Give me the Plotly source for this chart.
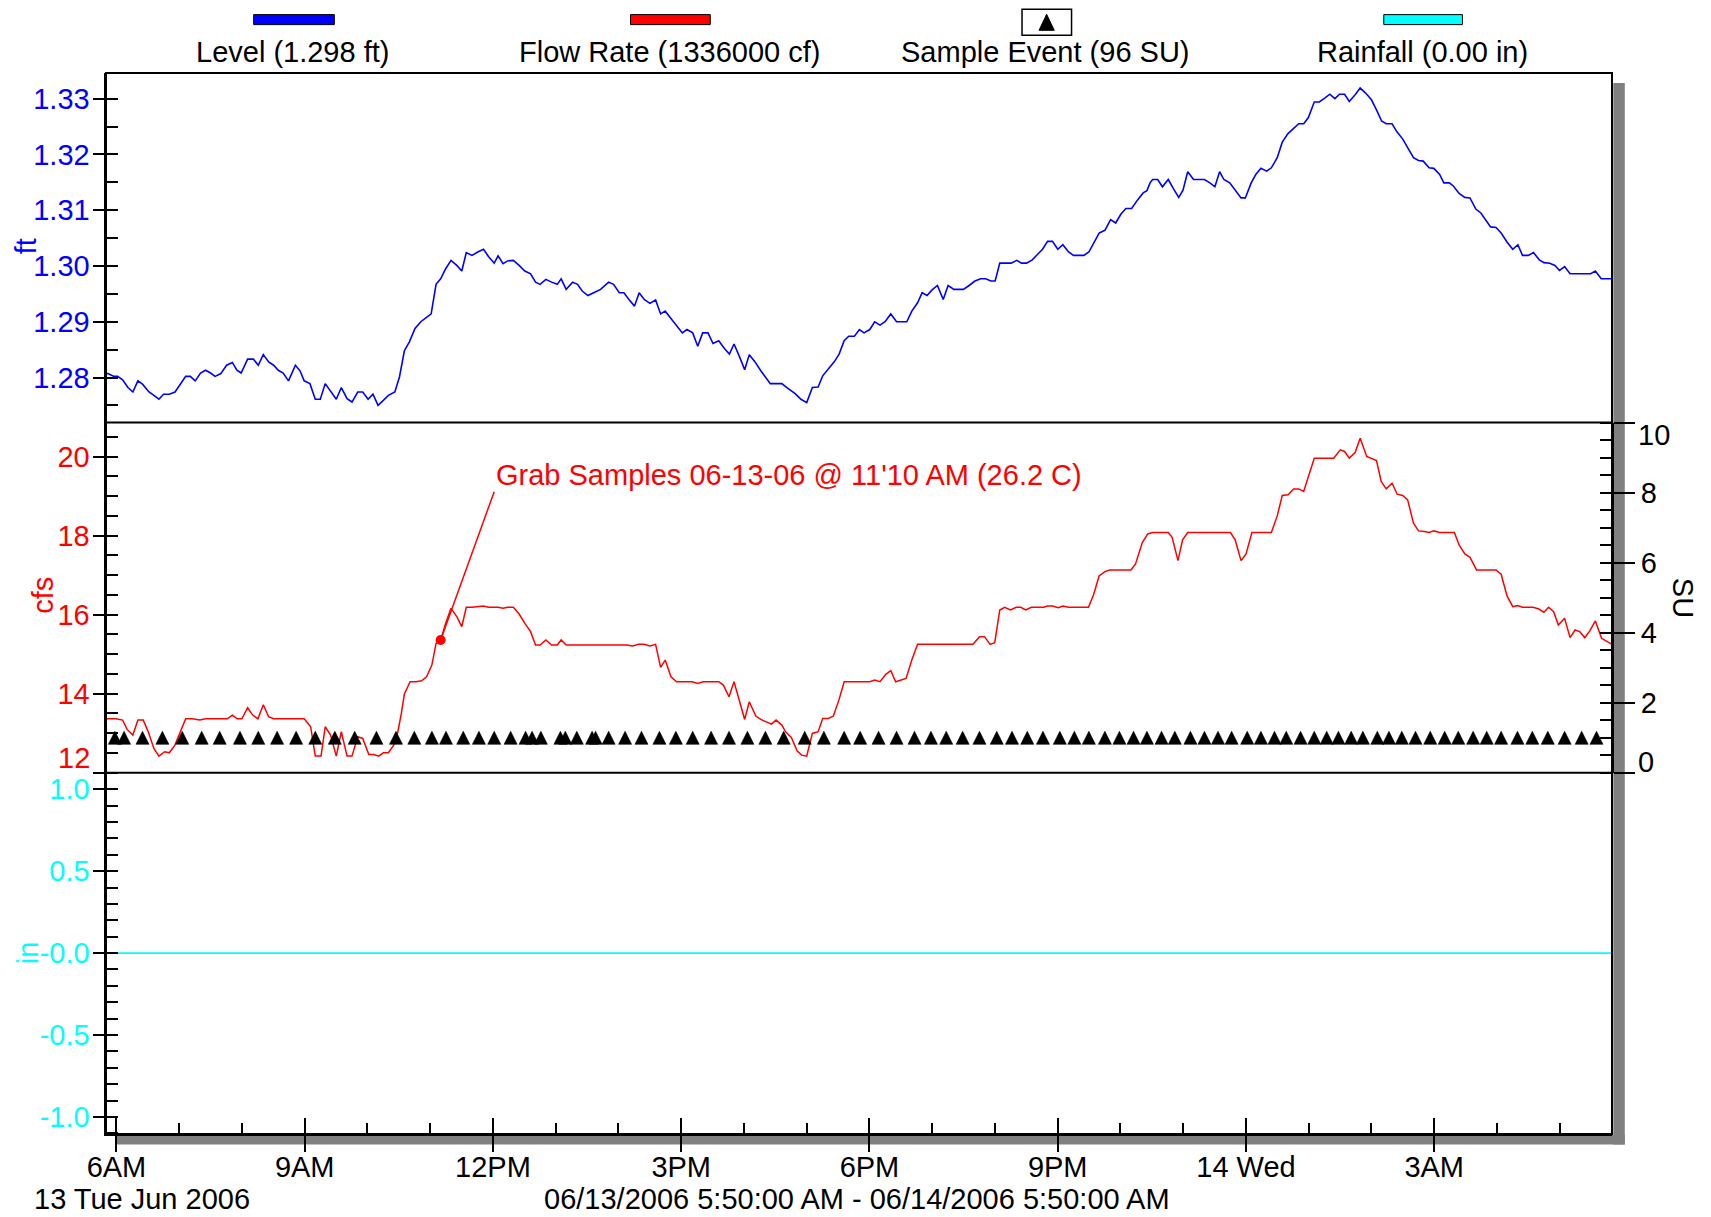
import pandas as pd
import plotly.graph_objects as go

# ---------------- data (minutes after 2006-06-13 06:00) ----------------
BASE = pd.Timestamp("2006-06-13 06:00")
RANGE_START_MIN = -10
RANGE_END_MIN = 1430

level_minutes = [-10, -8.0, -2.5, 1.1, 5.9, 11.0, 15.7, 20.5, 24.9, 31.1, 35.8, 40.6, 45.0, 50.5, 56.0, 61.4,
                 66.2, 70.6, 75.3, 80.4, 85.2, 90.0, 94.3, 99.8, 105.3, 110.8, 115.2, 119.2, 125.4, 130.9, 135.6,
                 140.4, 145.5, 150.3, 154.7, 159.4, 164.5, 171.1, 175.5, 179.5, 185.0, 190.1, 194.9, 199.6, 204.7,
                 210.2, 215.0, 220.5, 225.2, 230.7, 235.5, 240.6, 245.3, 250.1, 255.2, 260.0, 266.2, 270.6, 275.3,
                 280.1, 285.5, 291.0, 296.5, 300.9, 305.6, 310.0, 314.8, 319.9, 325.4, 330.2, 334.5, 340.0, 345.5,
                 351.0, 355.7, 361.2, 364.9, 369.6, 374.0, 379.5, 385.0, 390.5, 396.0, 400.7, 405.1, 410.6, 416.1,
                 421.5, 425.2, 430.0, 436.2, 440.9, 445.3, 450.8, 456.3, 462.9, 470.6, 475.3, 480.8, 485.2, 490.0,
                 495.4, 499.8, 504.6, 510.1, 515.5, 520.3, 524.7, 530.2, 535.6, 541.1, 545.5, 551.0, 555.8, 560.5,
                 565.6, 570.4, 575.9, 581.3, 586.1, 590.5, 596.0, 600.7, 605.1, 610.6, 616.1, 620.5, 625.2, 630.7,
                 636.2, 641.7, 649.0, 654.5, 660.0, 665.4, 670.9, 675.3, 680.8, 686.3, 691.0, 695.8, 700.2, 705.6,
                 710.4, 714.8, 720.3, 725.0, 730.1, 734.9, 740.4, 745.9, 750.6, 755.7, 760.5, 766.0, 770.4, 775.1,
                 779.9, 785.0, 790.5, 795.2, 800.7, 805.5, 809.8, 815.3, 820.8, 826.3, 831.1, 836.2, 840.2, 844.6,
                 850.1, 855.5, 861.0, 865.4, 870.2, 875.7, 880.4, 885.5, 890.3, 895.0, 900.1, 904.9, 910.4, 915.1,
                 920.6, 925.0, 929.8, 934.2, 939.6, 945.1, 950.6, 955.4, 960.5, 965.2, 970.7, 976.2, 981.7, 985.3,
                 988.3, 990.8, 995.6, 1000.1, 1005.7, 1010.5, 1015.7, 1019.8, 1024.3, 1029.9, 1035.4, 1040.3,
                 1045.5, 1050.3, 1054.8, 1058.9, 1064.5, 1070.1, 1075.3, 1079.4, 1085.0, 1089.4, 1094.3, 1099.8,
                 1104.3, 1109.9, 1114.7, 1120.0, 1124.8, 1130.4, 1135.2, 1139.7, 1145.3, 1150.1, 1155.3, 1160.2,
                 1165.0, 1169.5, 1174.3, 1178.8, 1184.4, 1189.2, 1194.4, 1200.0, 1204.8, 1209.7, 1214.1, 1219.7,
                 1224.2, 1230.1, 1234.6, 1240.2, 1245.0, 1249.5, 1255.1, 1259.6, 1265.2, 1269.2, 1274.5, 1278.5,
                 1283.8, 1289.3, 1294.2, 1299.8, 1304.6, 1309.1, 1313.9, 1319.1, 1324.0, 1329.6, 1335.1, 1340.0,
                 1344.4, 1350.0, 1354.9, 1360.5, 1364.9, 1370.5, 1375.4, 1379.8, 1384.7, 1389.9, 1395.4, 1401.0,
                 1405.9, 1409.6, 1414.1, 1419.7, 1424.5, 1430.0]
level_ft = [1.2807, 1.2807, 1.2802, 1.2802, 1.2796, 1.2782, 1.2774, 1.2794, 1.2788, 1.2774, 1.2768, 1.2761, 1.2770,
            1.2770, 1.2774, 1.2790, 1.2802, 1.2802, 1.2794, 1.2808, 1.2813, 1.2808, 1.2802, 1.2807, 1.2822, 1.2827,
            1.2813, 1.2808, 1.2833, 1.2833, 1.2822, 1.2841, 1.2828, 1.2822, 1.2813, 1.2808, 1.2794, 1.2822, 1.2812,
            1.2794, 1.2789, 1.2761, 1.2761, 1.2789, 1.2776, 1.2761, 1.2782, 1.2762, 1.2756, 1.2774, 1.2774, 1.2761,
            1.2770, 1.2750, 1.2759, 1.2768, 1.2774, 1.2801, 1.2848, 1.2864, 1.2888, 1.2900, 1.2908, 1.2914, 1.2967,
            1.2977, 1.2995, 1.3010, 1.3001, 1.2991, 1.3024, 1.3019, 1.3025, 1.3030, 1.3017, 1.3005, 1.3018, 1.3004,
            1.3009, 1.3010, 1.3001, 1.2991, 1.2986, 1.2971, 1.2967, 1.2976, 1.2971, 1.2967, 1.2977, 1.2958, 1.2971,
            1.2967, 1.2955, 1.2947, 1.2952, 1.2958, 1.2971, 1.2967, 1.2952, 1.2952, 1.2940, 1.2928, 1.2952, 1.2940,
            1.2933, 1.2939, 1.2914, 1.2919, 1.2906, 1.2892, 1.2880, 1.2886, 1.2880, 1.2856, 1.2880, 1.2880, 1.2861,
            1.2866, 1.2852, 1.2842, 1.2860, 1.2836, 1.2814, 1.2841, 1.2828, 1.2812, 1.2800, 1.2789, 1.2789, 1.2789,
            1.2781, 1.2771, 1.2761, 1.2755, 1.2782, 1.2783, 1.2803, 1.2816, 1.2828, 1.2842, 1.2866, 1.2874, 1.2874,
            1.2886, 1.2880, 1.2886, 1.2900, 1.2894, 1.2900, 1.2914, 1.2900, 1.2900, 1.2900, 1.2919, 1.2934, 1.2952,
            1.2947, 1.2957, 1.2965, 1.2940, 1.2965, 1.2958, 1.2958, 1.2958, 1.2965, 1.2973, 1.2977, 1.2977, 1.2973,
            1.2973, 1.3005, 1.3005, 1.3005, 1.3010, 1.3005, 1.3005, 1.3011, 1.3020, 1.3030, 1.3044, 1.3044, 1.3030,
            1.3038, 1.3025, 1.3019, 1.3019, 1.3019, 1.3025, 1.3041, 1.3059, 1.3064, 1.3083, 1.3077, 1.3093, 1.3103,
            1.3103, 1.3118, 1.3131, 1.3135, 1.3149, 1.3155, 1.3155, 1.3142, 1.3155, 1.3139, 1.3123, 1.3136, 1.3169,
            1.3155, 1.3155, 1.3155, 1.3149, 1.3142, 1.3169, 1.3155, 1.3149, 1.3134, 1.3122, 1.3122, 1.3149, 1.3164,
            1.3175, 1.3170, 1.3176, 1.3194, 1.3222, 1.3237, 1.3246, 1.3255, 1.3255, 1.3266, 1.3294, 1.3294, 1.3301,
            1.3308, 1.3300, 1.3308, 1.3308, 1.3295, 1.3307, 1.3319, 1.3310, 1.3298, 1.3280, 1.3260, 1.3255, 1.3255,
            1.3241, 1.3227, 1.3212, 1.3194, 1.3189, 1.3188, 1.3176, 1.3175, 1.3164, 1.3149, 1.3149, 1.3143, 1.3130,
            1.3123, 1.3122, 1.3102, 1.3095, 1.3082, 1.3070, 1.3069, 1.3059, 1.3043, 1.3030, 1.3038, 1.3019, 1.3019,
            1.3024, 1.3011, 1.3006, 1.3005, 1.3001, 1.2992, 1.2999, 1.2986, 1.2986, 1.2986, 1.2986, 1.2986, 1.2991,
            1.2977, 1.2977, 1.2977]

flow_minutes = [-10, -7.3, -0.7, 5.9, 10.2, 15.7, 20.5, 25.6, 30.4, 35.8, 40.6, 46.1, 50.5, 55.9, 61.4, 66.2,
                72.4, 79.7, 85.2, 92.5, 99.8, 106.0, 110.8, 115.5, 119.9, 125.4, 130.2, 135.3, 140.4, 145.5, 150.3,
                156.5, 167.5, 179.5, 185.7, 190.1, 195.6, 199.6, 204.7, 210.2, 215.0, 220.5, 225.2, 230.7, 235.5,
                241.3, 246.1, 250.8, 255.2, 260.0, 265.1, 269.1, 272.4, 275.3, 280.8, 286.3, 291.8, 296.5, 301.6,
                305.6, 310.0, 314.8, 319.9, 325.4, 330.2, 334.5, 340.0, 346.6, 351.0, 355.7, 364.9, 369.6, 374.0,
                379.5, 385.0, 390.5, 396.0, 400.7, 405.1, 410.6, 416.1, 421.5, 425.2, 430.0, 451.6, 488.1, 493.6,
                499.1, 504.6, 510.1, 515.5, 520.3, 524.7, 530.2, 535.6, 543.0, 550.3, 555.8, 561.2, 568.6, 575.9,
                580.3, 585.7, 590.5, 595.2, 600.7, 605.1, 611.3, 616.1, 621.6, 626.3, 630.7, 636.2, 639.8, 645.3,
                650.8, 655.2, 660.0, 665.4, 670.9, 675.3, 680.8, 685.5, 691.0, 695.8, 703.8, 714.8, 720.3, 725.0,
                730.1, 735.6, 740.4, 745.1, 750.6, 755.0, 760.5, 766.0, 777.0, 798.9, 813.5, 819.0, 825.2, 830.0,
                835.4, 839.8, 844.6, 849.3, 854.8, 860.3, 864.7, 869.4, 874.9, 886.6, 890.3, 895.0, 900.5, 904.9,
                910.4, 919.5, 929.4, 934.2, 939.6, 945.1, 949.9, 959.7, 970.0, 974.4, 980.9, 986.1, 990.8, 1005.7,
                1009.4, 1015.0, 1019.4, 1024.3, 1037.3, 1052.2, 1065.2, 1069.7, 1075.3, 1080.1, 1085.7, 1104.3,
                1109.9, 1114.7, 1120.3, 1125.5, 1130.4, 1135.2, 1140.4, 1145.3, 1163.9, 1170.2, 1174.3, 1178.8,
                1184.4, 1189.2, 1195.5, 1200.0, 1204.8, 1209.3, 1214.1, 1219.7, 1224.6, 1229.8, 1234.6, 1240.2,
                1245.0, 1250.6, 1255.1, 1259.6, 1265.2, 1279.3, 1283.8, 1289.3, 1294.2, 1300.5, 1307.2, 1319.1,
                1324.0, 1329.6, 1335.1, 1339.6, 1344.4, 1354.5, 1360.1, 1364.9, 1369.4, 1374.2, 1378.7, 1384.7,
                1389.9, 1394.7, 1399.2, 1404.0, 1408.9, 1414.1, 1420.0, 1424.5, 1430.0]
flow_cfs = [13.367, 13.367, 13.367, 13.333, 13.097, 12.954, 13.333, 13.333, 13.038, 12.616, 12.422, 12.532, 12.506,
            12.700, 13.038, 13.367, 13.367, 13.333, 13.367, 13.367, 13.367, 13.367, 13.460, 13.367, 13.367, 13.646,
            13.460, 13.367, 13.722, 13.418, 13.367, 13.367, 13.367, 13.367, 13.165, 12.422, 12.422, 13.165, 12.954,
            12.422, 13.038, 12.422, 12.422, 12.911, 12.869, 12.464, 12.464, 12.422, 12.506, 12.506, 12.700, 13.038,
            13.502, 13.992, 14.304, 14.304, 14.329, 14.430, 14.726, 15.274, 15.359, 15.781, 16.160, 15.949, 15.696,
            16.186, 16.186, 16.203, 16.219, 16.186, 16.186, 16.160, 16.186, 16.186, 16.017, 15.781, 15.570, 15.232,
            15.232, 15.359, 15.232, 15.232, 15.359, 15.232, 15.232, 15.232, 15.207, 15.249, 15.249, 15.207, 15.249,
            14.667, 14.852, 14.430, 14.304, 14.304, 14.304, 14.262, 14.304, 14.304, 14.304, 14.219, 13.924, 14.304,
            13.840, 13.350, 13.797, 13.435, 13.350, 13.291, 13.232, 13.333, 13.207, 13.038, 12.895, 12.557, 12.447,
            12.422, 12.996, 13.038, 13.376, 13.376, 13.435, 13.857, 14.304, 14.304, 14.304, 14.304, 14.346, 14.304,
            14.489, 14.582, 14.304, 14.346, 14.388, 14.852, 15.249, 15.249, 15.249, 15.249, 15.249, 15.443, 15.443,
            15.249, 15.291, 16.118, 16.186, 16.118, 16.186, 16.186, 16.118, 16.186, 16.186, 16.219, 16.219, 16.177,
            16.219, 16.186, 16.186, 16.186, 16.498, 16.979, 17.089, 17.131, 17.131, 17.131, 17.283, 17.823, 18.042,
            18.076, 18.076, 17.958, 17.367, 17.890, 18.076, 18.076, 18.076, 18.076, 17.890, 17.367, 17.536, 18.076,
            18.076, 18.498, 19.013, 19.030, 19.181, 19.181, 19.114, 19.578, 19.958, 19.958, 20.169, 20.127, 19.958,
            20.101, 20.464, 20.000, 19.958, 19.899, 19.367, 19.181, 19.325, 19.046, 19.013, 18.903, 18.312, 18.118,
            18.101, 18.076, 18.118, 18.076, 18.076, 17.764, 17.536, 17.451, 17.131, 17.131, 17.131, 17.021, 16.473,
            16.203, 16.228, 16.186, 16.186, 16.143, 16.059, 16.186, 16.076, 15.738, 15.907, 15.418, 15.612, 15.570,
            15.418, 15.595, 15.840, 15.401, 15.333, 15.249]

sample_minutes = [-1.5, 7.3, 24.9, 43.9, 62.9, 81.5, 98.7, 118.1, 135.6, 153.6, 171.8, 190.1, 208.8, 227.8, 248.6,
                  267.3, 284.8, 301.6, 315.1, 331.6, 346.6, 361.2, 376.9, 391.2, 397.4, 405.8, 424.5, 429.2, 440.2,
                  454.8, 458.1, 470.6, 486.3, 502.0, 519.2, 534.9, 551.0, 568.6, 585.7, 603.3, 620.5, 638.0, 658.1,
                  676.4, 695.8, 711.1, 728.7, 745.9, 763.1, 778.8, 793.4, 809.1, 825.2, 841.7, 856.3, 870.9, 885.9,
                  902.0, 915.9, 929.8, 945.1, 959.0, 972.5, 985.3, 999.3, 1012.0, 1026.9, 1040.3, 1053.3, 1066.3,
                  1081.2, 1094.3, 1107.3, 1118.5, 1132.2, 1145.3, 1157.2, 1168.4, 1180.6, 1191.8, 1205.6, 1216.7,
                  1229.0, 1242.1, 1256.2, 1270.0, 1283.0, 1297.2, 1310.2, 1324.0, 1339.6, 1353.8, 1368.6, 1384.7,
                  1401.0, 1415.2]
sample_su = [1, 1, 1, 1, 1, 1, 1, 1, 1, 1, 1, 1, 1, 1, 1, 1, 1, 1, 1, 1, 1, 1, 1, 1, 1, 1, 1, 1, 1, 1, 1, 1,
             1, 1, 1, 1, 1, 1, 1, 1, 1, 1, 1, 1, 1, 1, 1, 1, 1, 1, 1, 1, 1, 1, 1, 1, 1, 1, 1, 1, 1, 1, 1, 1,
             1, 1, 1, 1, 1, 1, 1, 1, 1, 1, 1, 1, 1, 1, 1, 1, 1, 1, 1, 1, 1, 1, 1, 1, 1, 1, 1, 1, 1, 1, 1, 1]

rain_minutes = [-10, 0, 60, 120, 180, 240, 300, 360, 420, 480, 540, 600, 660, 720, 780, 840, 900, 960, 1020,
                1080, 1140, 1200, 1260, 1320, 1380, 1430]
rain_in = [0.0, 0.0, 0.0, 0.0, 0.0, 0.0, 0.0, 0.0, 0.0, 0.0, 0.0, 0.0, 0.0, 0.0, 0.0, 0.0, 0.0, 0.0, 0.0,
           0.0, 0.0, 0.0, 0.0, 0.0, 0.0, 0.0]

grab_minute = 310          # 11:10 AM
grab_cfs = 15.36
grab_label = "Grab Samples 06-13-06 @ 11'10 AM (26.2 C)"

x_tick_minutes = [0, 180, 360, 540, 720, 900, 1080, 1260]
x_tick_text = ["6AM", "9AM", "12PM", "3PM", "6PM", "9PM", "14 Wed", "3AM"]
level_tick_vals = [1.28, 1.29, 1.30, 1.31, 1.32, 1.33]
level_tick_text = ["1.28", "1.29", "1.30", "1.31", "1.32", "1.33"]
flow_tick_vals = [12, 14, 16, 18, 20]
flow_tick_text = ["", "14", "16", "18", "20"]
su_tick_vals = [0, 2, 4, 6, 8, 10]
su_tick_text = ["", "2", "4", "6", "8", ""]
rain_tick_vals = [-1.0, -0.5, 0.0, 0.5, 1.0]
rain_tick_text = ["-1.0", "-0.5", "-0.0", "0.5", "1.0"]

legend_items = ["Level (1.298 ft)", "Flow Rate (1336000 cf)", "Sample Event (96 SU)", "Rainfall (0.00 in)"]


def to_time(minutes):
    return BASE + pd.to_timedelta(minutes, unit="m")


# ---------------- layout geometry (page pixels) ----------------
PAGE_W, PAGE_H = 1711, 1217
BODY = 8                      # default page body margin in front of the figure
ML, MR, MT, MB = 106.4, 99.3, 72.7, 83.0          # page-pixel plot-area margins
PW, PH = PAGE_W - ML - MR, PAGE_H - MT - MB
FONT = "Liberation Sans, Arial, sans-serif"
FS = 29
BLUE, RED, CYAN, GRAY = "#0000FF", "#FF0000", "#00FFFF", "#808080"


def px(X):
    return (X - ML) / PW


def py(Y):
    return (PAGE_H - MB - Y) / PH


D_RAIN_TOP = py(772.7)
D_LEVEL_BOT = py(422.3)

x_range = [to_time(RANGE_START_MIN), to_time(RANGE_END_MIN)]

rain_rng = [-1.104, 1.1]
flow_rng = [12, 20.86]
level_rng = [1.27193, 1.3346]
su_rng = [0, 10]
# the "arrow-up" marker hangs from its tip; shift its axis by half the marker height
TRI_SIZE = 13
tri_shift = (TRI_SIZE / 2) / ((772.7 - 422.3) / (su_rng[1] - su_rng[0]))
tri_rng = [su_rng[0] - tri_shift, su_rng[1] - tri_shift]

fig = go.Figure()
fig.add_trace(go.Scatter(x=to_time(level_minutes), y=level_ft, mode="lines",
                         line=dict(color=BLUE, width=1.6), xaxis="x", yaxis="y3"))
fig.add_trace(go.Scatter(x=to_time(flow_minutes), y=flow_cfs, mode="lines",
                         line=dict(color=RED, width=1.5), xaxis="x", yaxis="y2"))
fig.add_trace(go.Scatter(x=to_time(rain_minutes), y=rain_in, mode="lines",
                         line=dict(color=CYAN, width=1.8), xaxis="x", yaxis="y"))
# grab sample callout
label_minute, label_cfs_line, label_cfs_text = 361.2, 19.11, 19.52
fig.add_trace(go.Scatter(x=to_time([grab_minute, label_minute]), y=[grab_cfs, label_cfs_line], mode="lines",
                         line=dict(color=RED, width=1.5), xaxis="x", yaxis="y2"))
fig.add_trace(go.Scatter(x=to_time([grab_minute]), y=[grab_cfs], mode="markers",
                         marker=dict(color=RED, size=10), xaxis="x", yaxis="y2"))
# empty helper traces so that every overlay axis (tick decorations) gets drawn
for xa, ya in [("x", "y4"), ("x", "y5"), ("x", "y6"), ("x", "y7"), ("x", "y8"), ("x2", "y")]:
    fig.add_trace(go.Scatter(x=[None], y=[None], mode="lines", xaxis=xa, yaxis=ya, hoverinfo="skip"))
fig.add_trace(go.Scatter(x=to_time(sample_minutes), y=sample_su, mode="markers",
                         marker=dict(symbol="arrow-up", color="black", size=TRI_SIZE,
                                     line=dict(width=0.6, color="black")),
                         xaxis="x", yaxis="y9"))


def tickfont(c):
    return dict(family=FONT, size=FS, color=c)


def left_axis(domain, rng, vals, text, color, minor_dtick, minor_tick0):
    return dict(domain=domain, range=rng, anchor="x", side="left", tickmode="array", tickvals=vals,
                ticktext=text, ticks="outside", ticklen=11.5, tickwidth=1.5, tickcolor="black",
                ticklabelstandoff=-3,
                tickfont=tickfont(color), showline=True, linecolor="black", linewidth=2,
                showgrid=False, zeroline=False, fixedrange=True,
                minor=dict(ticks="inside", ticklen=12, tickwidth=1.5, tickcolor="black",
                           dtick=minor_dtick, tick0=minor_tick0, showgrid=False))


def inner_overlay(over, rng, vals, side="left"):
    return dict(overlaying=over, range=rng, anchor="x", side=side, tickmode="array", tickvals=vals,
                ticks="inside", ticklen=12, tickwidth=1.5, tickcolor="black", showticklabels=False,
                showline=False, showgrid=False, zeroline=False, fixedrange=True)


fig.update_layout(
    width=PAGE_W - BODY, height=PAGE_H - BODY,
    margin=dict(l=ML - BODY, r=MR, t=MT - BODY, b=MB, pad=0, autoexpand=False),
    paper_bgcolor="white", plot_bgcolor="white", showlegend=False, hovermode=False,
    font=dict(family=FONT, size=FS, color="black"),
    xaxis=dict(type="date", range=x_range, domain=[0, 1], anchor="y", tickmode="array",
               tickvals=to_time(x_tick_minutes), ticktext=x_tick_text, ticks="outside", ticklen=16,
               ticklabelstandoff=-10,
               tickwidth=1.5, tickcolor="black", tickfont=tickfont("black"), showline=True,
               linecolor="black", linewidth=2, showgrid=False, zeroline=False, fixedrange=True,
               minor=dict(ticks="inside", ticklen=11, tickwidth=1.5, tickcolor="black",
                          dtick=3600000, tick0=to_time(0), showgrid=False)),
    xaxis2=dict(type="date", range=x_range, overlaying="x", anchor="y", side="bottom", tickmode="array",
                tickvals=to_time(x_tick_minutes), ticks="inside", ticklen=16, tickwidth=1.5,
                tickcolor="black", showticklabels=False, showline=False, showgrid=False, zeroline=False,
                fixedrange=True),
    yaxis=left_axis([0, D_RAIN_TOP], rain_rng, rain_tick_vals, rain_tick_text, CYAN, 0.1, 0),
    yaxis2=left_axis([D_RAIN_TOP, D_LEVEL_BOT], flow_rng, flow_tick_vals, flow_tick_text, RED, 0.5, 12),
    yaxis3=left_axis([D_LEVEL_BOT, 1], level_rng, level_tick_vals, level_tick_text, BLUE, 0.005, 1.28),
    yaxis4=dict(overlaying="y2", range=su_rng, anchor="x", side="right", tickmode="array",
                tickvals=su_tick_vals, ticktext=su_tick_text, ticks="outside", ticklen=21, tickwidth=1.5,
                tickcolor="black", tickfont=tickfont("black"), showline=True, linecolor="black", linewidth=2,
                showgrid=False, zeroline=False, fixedrange=True,
                minor=dict(ticks="inside", ticklen=12, tickwidth=1.5, tickcolor="black", dtick=0.5, tick0=0,
                           showgrid=False)),
    yaxis5=inner_overlay("y", rain_rng, rain_tick_vals),
    yaxis6=inner_overlay("y2", flow_rng, flow_tick_vals),
    yaxis7=inner_overlay("y3", level_rng, level_tick_vals),
    yaxis8=inner_overlay("y2", su_rng, su_tick_vals, side="right"),
    yaxis9=dict(overlaying="y2", range=tri_rng, anchor="x", side="right", visible=False, fixedrange=True),
)

shapes = [
    # drop shadow
    dict(type="rect", xref="paper", yref="paper", x0=px(1613), x1=px(1624.5), y0=py(1144.5), y1=py(82.7),
         fillcolor=GRAY, line=dict(width=0), layer="below"),
    dict(type="rect", xref="paper", yref="paper", x0=px(115.6), x1=px(1624.5), y0=py(1144.5), y1=py(1135),
         fillcolor=GRAY, line=dict(width=0), layer="below"),
    # frame & panel separators
    dict(type="rect", xref="paper", yref="paper", x0=0, x1=1, y0=0, y1=1, line=dict(color="black", width=2)),
    dict(type="line", xref="paper", yref="paper", x0=0, x1=1, y0=D_RAIN_TOP, y1=D_RAIN_TOP,
         line=dict(color="black", width=2)),
    dict(type="line", xref="paper", yref="paper", x0=0, x1=1, y0=D_LEVEL_BOT, y1=D_LEVEL_BOT,
         line=dict(color="black", width=2)),
]
# legend swatches
for (x0, x1), col in [((254, 334.6), BLUE), ((630.7, 710.4), RED), ((1383.6, 1462.2), CYAN)]:
    shapes.append(dict(type="rect", xref="paper", yref="paper", x0=px(x0), x1=px(x1), y0=py(24.3), y1=py(14.3),
                       fillcolor=col, line=dict(color="black", width=1)))
shapes.append(dict(type="rect", xref="paper", yref="paper", x0=px(1022), x1=px(1071.5), y0=py(35), y1=py(9),
                   fillcolor="white", line=dict(color="black", width=1.5)))
shapes.append(dict(type="path", xref="paper", yref="paper",
                   path="M {},{} L {},{} L {},{} Z".format(px(1046.6), py(14), px(1039), py(30),
                                                           px(1054.2), py(30)),
                   fillcolor="black", line=dict(color="black", width=1)))
fig.update_layout(shapes=shapes)

ann = []
for txt, cx in zip(legend_items, [293, 669.4, 1045.3, 1421.8]):
    ann.append(dict(text=txt, xref="paper", yref="paper", x=px(cx), y=py(51.3), xanchor="center",
                    yanchor="middle", showarrow=False, font=dict(family=FONT, size=FS, color="black")))
ann += [
    dict(text="ft", xref="paper", yref="paper", x=px(26.5), y=py(246), textangle=-90, showarrow=False,
         xanchor="center", yanchor="middle", font=dict(family=FONT, size=FS, color=BLUE)),
    dict(text="cfs", xref="paper", yref="paper", x=px(44), y=py(595), textangle=-90, showarrow=False,
         xanchor="center", yanchor="middle", font=dict(family=FONT, size=FS, color=RED)),
    dict(text="in", xref="paper", yref="paper", x=px(28), y=py(952.6), textangle=-90, showarrow=False,
         xanchor="center", yanchor="middle", font=dict(family=FONT, size=FS, color=CYAN)),
    dict(text="SU", xref="paper", yref="paper", x=px(1683), y=py(598), textangle=90, showarrow=False,
         xanchor="center", yanchor="middle", font=dict(family=FONT, size=FS, color="black")),
    # edge tick labels nudged inward
    dict(text="12", xref="paper", yref="paper", x=px(92), y=py(757.5), showarrow=False,
         xanchor="right", yanchor="middle", font=dict(family=FONT, size=FS, color=RED)),
    dict(text="10", xref="paper", yref="paper", x=px(1636), y=py(435), showarrow=False,
         xanchor="left", yanchor="middle", font=dict(family=FONT, size=FS, color="black")),
    dict(text="0", xref="paper", yref="paper", x=px(1636), y=py(761.7), showarrow=False,
         xanchor="left", yanchor="middle", font=dict(family=FONT, size=FS, color="black")),
    # bottom captions
    dict(text="13 Tue Jun 2006", xref="paper", yref="paper", x=px(32), y=py(1199.5), showarrow=False,
         xanchor="left", yanchor="middle", font=dict(family=FONT, size=FS, color="black")),
    dict(text="06/13/2006 5:50:00 AM - 06/14/2006 5:50:00 AM", xref="paper", yref="paper", x=px(856.6),
         y=py(1199.5), showarrow=False, xanchor="center", yanchor="middle",
         font=dict(family=FONT, size=FS, color="black")),
    # grab sample label
    dict(text=grab_label, xref="x", yref="y2", x=to_time(label_minute), y=label_cfs_text, showarrow=False,
         xanchor="left", yanchor="middle", font=dict(family=FONT, size=FS, color=RED)),
]
fig.update_layout(annotations=ann)

fig.write_html("out.html")
